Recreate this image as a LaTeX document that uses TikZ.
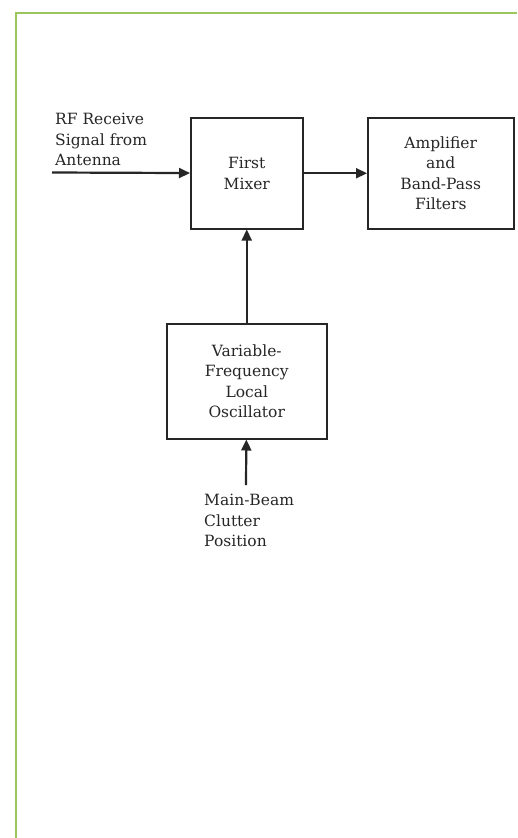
\documentclass[tikz,border=0pt]{standalone}
\usepackage{fontspec}
\setmainfont{DejaVu Serif}
\usepackage{xcolor}
\usetikzlibrary{positioning,arrows.meta}
\definecolor{frameGreen}{HTML}{9CC65B}
\definecolor{inkGray}{HTML}{262626}

\begin{document}
\begin{tikzpicture}[
  x=1pt, y=-1pt,
  >={Triangle[length=11pt,width=10pt]},
  every node/.style={font=\fontsize{15.5}{20.5}\selectfont, text=inkGray},
  blockbox/.style={rectangle, draw=inkGray, line width=1.5pt, align=center,
    inner sep=0pt, anchor=north west},
  sigline/.style={->, draw=inkGray, line width=2.2pt},
  sidelabel/.style={align=left, inner sep=0pt, anchor=north west},
]
\useasboundingbox (0,0) rectangle (517,838);

% ======= Frame =======
\draw[frameGreen, line width=2.5pt] (16,838) -- (16,13) -- (517,13);

% ======= Blocks =======
\node[blockbox, minimum width=112pt, minimum height=111pt] (mixer) at (190,117)
  {First\\Mixer};
\node[blockbox, minimum width=146pt, minimum height=111pt] (amp) at (367,117)
  {Amplifier\\and\\Band-Pass\\Filters};
\node[blockbox, minimum width=160pt, minimum height=115pt] (osc) at (166,323)
  {Variable-\\Frequency\\Local\\Oscillator};

% ======= Inputs =======
\node[sidelabel] (rflabel) at (55,113) {RF Receive\\Signal from\\Antenna};
\coordinate (rfin) at (52,172.5);
\node[sidelabel] (clutterlab) at (204,494) {Main-Beam\\Clutter\\Position};
\coordinate (clutterin) at (246,485);

% ======= Connectors =======
\draw[sigline] (rfin) -- (mixer);
\draw[sigline] (mixer) -- (amp);
\draw[sigline] (osc) -- (mixer);
\draw[sigline] (clutterin) -- (osc);

\end{tikzpicture}
\end{document}
